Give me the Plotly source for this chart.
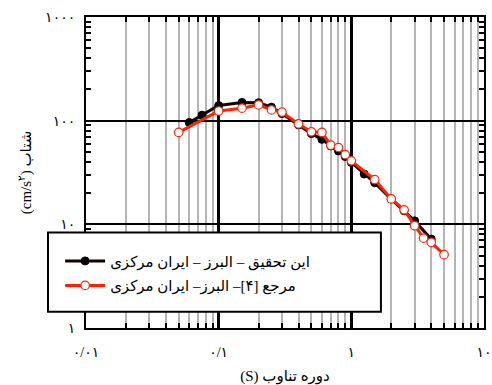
import plotly.graph_objects as go

# Spectral acceleration vs. period
period_study = [0.06, 0.075, 0.1, 0.15, 0.2, 0.25, 0.3, 0.4, 0.5, 0.6, 0.7, 0.8, 0.9,
                1.0, 1.25, 1.5, 2.0, 2.5, 3.0, 4.0]
accel_study = [96, 113, 140, 150, 149, 135, 117, 91, 75, 66, 57, 51, 45,
               39.5, 30.6, 25.2, 17.5, 13.5, 10.8, 7.2]

period_ref = [0.05, 0.1, 0.15, 0.2, 0.25, 0.3, 0.4, 0.5, 0.6, 0.7, 0.8, 0.9, 1.0,
              1.5, 2.0, 2.5, 3.0, 3.5, 4.0, 5.0]
accel_ref = [77, 124, 132, 142, 127, 121, 93, 78, 77, 58, 55, 47, 41,
             27, 17.6, 13.8, 9.7, 7.35, 6.7, 5.1]

# right-to-left embedding for Persian strings
RLE, PDF = "\u202b", "\u202c"


def rtl(s):
    return RLE + s + PDF


name_study = rtl("این تحقیق – البرز – ایران مرکزی")
name_ref = rtl("مرجع [۴]– البرز– ایران مرکزی")

x_tick_vals = [0.01, 0.1, 1, 10]
x_tick_text = ["۰/۰۱", "۰/۱", "۱", "۱۰"]
y_tick_vals = [1, 10, 100, 1000]
y_tick_text = ["۱", "۱۰", "۱۰۰", "۱۰۰۰"]

x_title = rtl("دوره تناوب (S)")
y_title = rtl("شتاب (cm/s<sup>۲</sup>)")

FONT = "Liberation Serif, DejaVu Sans, serif"
RED = "#ff2200"


# minor positions 2..9 inside each decade
def minor_positions(lo, hi):
    vals = []
    d = lo
    while d < hi:
        vals += [k * d for k in range(2, 10)]
        d *= 10
    return vals


fig = go.Figure()
fig.add_trace(go.Scatter(
    x=period_study, y=accel_study, name=name_study, mode="lines+markers",
    line=dict(color="#140000", width=3),
    marker=dict(symbol="circle", size=8, color="#000000",
                line=dict(color="#000000", width=1)),
    legendgroup="a",
))
fig.add_trace(go.Scatter(
    x=period_ref, y=accel_ref, name=name_ref, mode="lines+markers",
    line=dict(color=RED, width=3),
    marker=dict(symbol="circle", size=8.5, color="white",
                line=dict(color=RED, width=1.2)),
    legendgroup="b",
))

fig.update_xaxes(
    type="log", range=[-2, 1], automargin=False,
    tickmode="array", tickvals=x_tick_vals, ticktext=x_tick_text, ticks="",
    showgrid=True, gridcolor="#000000", gridwidth=3,
    showline=True, linecolor="black", linewidth=2, mirror="allticks",
    minor=dict(tickmode="array", tickvals=minor_positions(0.01, 10),
               showgrid=True, gridcolor="#b4b4b4", gridwidth=1.6,
               ticks="inside", ticklen=5, tickcolor="black", tickwidth=1.5),
    ticklabelstandoff=10,
    tickfont=dict(family=FONT, size=14, color="black"),
    title=dict(text=x_title, font=dict(family=FONT, size=15, color="black"),
               standoff=13),
    zeroline=False,
)
fig.update_yaxes(
    type="log", range=[0, 3], automargin=False,
    tickmode="array", tickvals=y_tick_vals, ticktext=y_tick_text, ticks="",
    showgrid=True, gridcolor="#000000", gridwidth=1.6,
    showline=True, linecolor="black", linewidth=2, mirror="allticks",
    minor=dict(tickmode="array", tickvals=minor_positions(1, 1000),
               showgrid=False,
               ticks="inside", ticklen=5, tickcolor="black", tickwidth=1.5),
    ticklabelstandoff=6,
    tickfont=dict(family=FONT, size=14, color="black"),
    title=dict(text=y_title, font=dict(family=FONT, size=15, color="black"),
               standoff=10),
    zeroline=False,
)

# white legend panel
fig.add_shape(type="rect", xref="paper", yref="paper",
              x0=-0.0955, x1=0.741, y0=0.0524, y1=0.307,
              fillcolor="white", line=dict(color="black", width=2), layer="above")

fig.update_layout(
    width=492, height=385,
    margin=dict(l=86, r=8, t=17, b=57),
    paper_bgcolor="white", plot_bgcolor="white",
    font=dict(family=FONT, color="black"),
    showlegend=True,
    legend=dict(x=-0.065, y=0.268, xanchor="left", yanchor="top",
                bgcolor="rgba(0,0,0,0)", borderwidth=0,
                font=dict(family=FONT, size=15, color="black"),
                traceorder="grouped", tracegroupgap=2, itemwidth=40),
)

fig.write_html("out.html")
